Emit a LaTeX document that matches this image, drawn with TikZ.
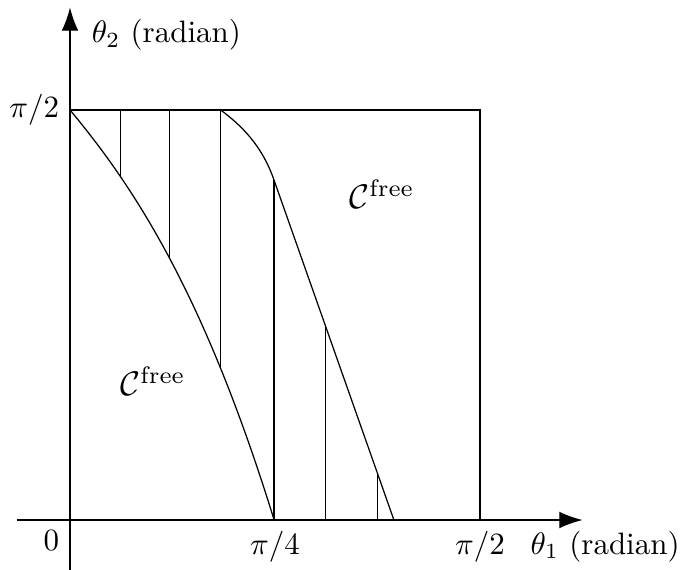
\documentclass[tikz,border=0pt]{standalone}
\usepackage{amsmath, amssymb}
\usepackage{tikz}
\usetikzlibrary{calc, arrows.meta, positioning}

\begin{document}
\begin{tikzpicture}[>={Latex[length=7.5pt,width=5.4pt]}, x=1.163cm, y=1.163cm]
    \useasboundingbox (-0.683,-0.478) rectangle (5.98,5.073);
    % Vẽ hệ trục
    \draw[->] (-0.52,0) -- (5.0,0) coordinate (xend);
    \draw[->] (0,-0.5) -- (0,5.0) coordinate (yend);
    \node (t1) at (5.22,0) [below] {$\theta_1$ (radian)};
    \node (t2) at (0.94,4.73) {$\theta_2$ (radian)};
    \node (o) [below left] at (0,0) {$0$};
    \node (a) [left] at (0,4) {$\pi/2$};
    \node (b) [below] at (2,0) {$\pi/4$};
    \node (c) [below] at (4,0) {$\pi/2$};
    
    % Khung vuông
    \draw (0,4) -- (4,4) -- (4,0);
    
    % Các điểm trên hai đường cong
    \coordinate (L1) at (0.49,3.353);
    \coordinate (L2) at (0.97,2.556);
    \coordinate (L3) at (1.47,1.478);
    \coordinate (L4) at (1.99,0);
    \coordinate (R0) at (1.47,4);
    \coordinate (R1) at (1.99,3.317);
    \coordinate (R2) at (2.49,1.899);
    \coordinate (R3) at (3.0,0.454);
    \coordinate (R4) at (3.16,0);
    
    % Vẽ hai đường cong
    \draw[samples=80, domain=0:1.99]
        plot (\x, {4 - 1.198*\x - 0.198*\x^2 - 0.105*\x^3});
    \draw (R0) .. controls (1.67,3.85) and (1.87,3.66) .. (R1) -- (R4);
    
    % Các đoạn thẳng đứng
    \foreach \p in {L1,L2,L3} {
        \draw (\p) -- (\p |- R0);
    }
    \foreach \p in {R1,R2,R3} {
        \draw (\p) -- (\p |- L4);
    }
    
    % Nhãn vùng tự do
    \node (f1) [scale=1.1] at (0.81,1.356) {$\mathcal{C}^{\text{free}}$};
    \node (f2) [scale=1.1] at (3.044,3.18) {$\mathcal{C}^{\text{free}}$};
\end{tikzpicture}
\end{document}
